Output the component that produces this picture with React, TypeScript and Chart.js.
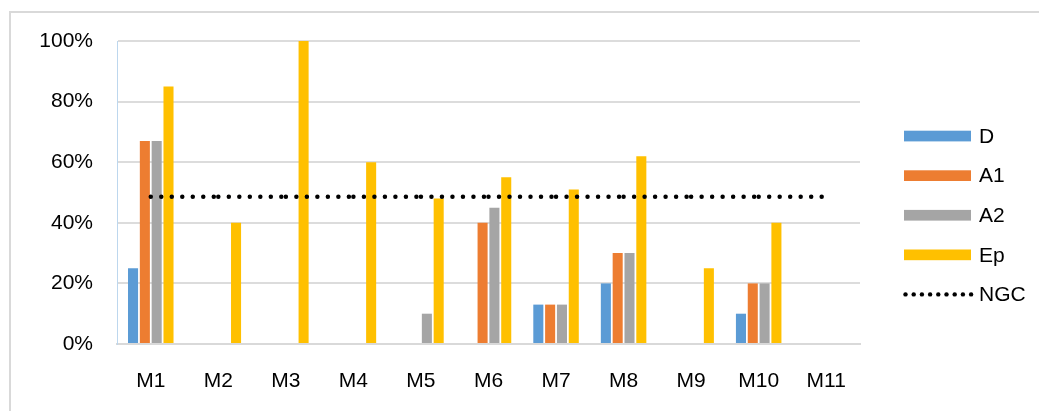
import React, { useEffect, useRef } from "react";
import { Chart, registerables } from "chart.js";

Chart.register(...registerables);

const categories = ["M1", "M2", "M3", "M4", "M5", "M6", "M7", "M8", "M9", "M10", "M11"];
const dValues = [25, 0, 0, 0, 0, 0, 13, 20, 0, 10, 0];
const a1Values = [67, 0, 0, 0, 0, 40, 13, 30, 0, 20, 0];
const a2Values = [67, 0, 0, 0, 10, 45, 13, 30, 0, 20, 0];
const epValues = [85, 40, 100, 60, 48, 55, 51, 62, 25, 40, 0];
const ngcValues = [48.6, 48.6, 48.6, 48.6, 48.6, 48.6, 48.6, 48.6, 48.6, 48.6, 48.6];
const yTicks = [0, 20, 40, 60, 80, 100];

const FONT = '"Liberation Sans", Arial, sans-serif';
const FSIZE = 21;

const framePlugin = {
  id: "frame",
  beforeDraw(chart: any) {
    const ctx = chart.ctx;
    ctx.save();
    ctx.fillStyle = "#ffffff";
    ctx.fillRect(0, 0, chart.width, chart.height);
    ctx.fillStyle = "#d9d9d9";
    ctx.fillRect(9, 11, chart.width - 9, 2);
    ctx.fillRect(9, 11, 2, chart.height - 11);
    ctx.restore();
  },
};

const legendPlugin = {
  id: "customLegend",
  afterDraw(chart: any) {
    const ctx = chart.ctx;
    ctx.save();
    const x0 = 904;
    const w = 67;
    const startY = 136;
    const step = 39.6;
    ctx.font = `${FSIZE}px ${FONT}`;
    ctx.textBaseline = "middle";
    ctx.textAlign = "left";
    const items = chart.data.datasets;
    const order = [1, 2, 3, 4, 0];
    order.forEach((di, i) => {
      const ds = items[di];
      const cy = startY + i * step;
      if (ds.type === "line") {
        ctx.fillStyle = "#000";
        for (let k = 0; k < 9; k++) {
          ctx.beginPath();
          ctx.arc(x0 + 1.5 + k * 8.2, cy, 2.2, 0, Math.PI * 2);
          ctx.fill();
        }
      } else {
        ctx.fillStyle = ds.backgroundColor;
        ctx.fillRect(x0, cy - 5.3, w, 10.7);
      }
      ctx.fillStyle = "#000";
      ctx.fillText(ds.label, 979, cy + 1);
    });
    ctx.restore();
  },
};

export default function App() {
  const ref = useRef<HTMLCanvasElement | null>(null);

  useEffect(() => {
    document.body.style.margin = "0";
    const canvas = ref.current;
    if (!canvas) return;
    const chart = new Chart(canvas, {
      type: "bar",
      data: {
        labels: categories,
        datasets: [
          {
            type: "line",
            label: "NGC",
            data: ngcValues,
            borderColor: "#000000",
            borderWidth: 4.5,
            borderDash: [0, 10.5],
            borderCapStyle: "round",
            pointRadius: 0,
            fill: false,
            tension: 0,
            order: 0,
            segment: {
              borderColor: (c: any) => (c.p0DataIndex % 2 ? "#000001" : "#000000"),
            },
          } as any,
          { type: "bar", label: "D", data: dValues, backgroundColor: "#5B9BD5", order: 1 },
          { type: "bar", label: "A1", data: a1Values, backgroundColor: "#ED7D31", order: 1 },
          { type: "bar", label: "A2", data: a2Values, backgroundColor: "#A5A5A5", order: 1 },
          { type: "bar", label: "Ep", data: epValues, backgroundColor: "#FFC000", order: 1 },
        ],
      },
      options: {
        responsive: false,
        animation: false,
        devicePixelRatio: 1,
        layout: { padding: { left: 0, right: 179, top: 41, bottom: 0 } },
        datasets: {
          bar: { categoryPercentage: 0.7, barPercentage: 0.85 },
        },
        plugins: {
          legend: { display: false },
          tooltip: { enabled: false },
        },
        scales: {
          x: {
            grid: { display: false },
            border: { display: true, color: "#d9d9d9", width: 2 },
            ticks: {
              color: "#000",
              font: { family: FONT, size: FSIZE },
              padding: 17,
              maxRotation: 0,
              autoSkip: false,
            },
            afterFit: (s: any) => {
              s.height = 67;
            },
          },
          y: {
            min: 0,
            max: 100,
            afterBuildTicks: (s: any) => {
              s.ticks = yTicks.map((v) => ({ value: v }));
            },
            grid: { color: "#dcdcdc", lineWidth: 2, drawTicks: false },
            border: { display: true, color: "#BDD7EE", width: 1 },
            ticks: {
              color: "#000",
              font: { family: FONT, size: FSIZE },
              padding: 24,
              callback: (v: any) => `${v}%`,
            },
            afterFit: (s: any) => {
              s.width = 117;
            },
          },
        },
      },
      plugins: [framePlugin, legendPlugin],
    });
    return () => chart.destroy();
  }, []);

  return (
    <div style={{ position: "fixed", left: 0, top: 0, width: 1039, height: 411 }}>
      <canvas ref={ref} width={1039} height={411} style={{ display: "block" }} />
    </div>
  );
}
